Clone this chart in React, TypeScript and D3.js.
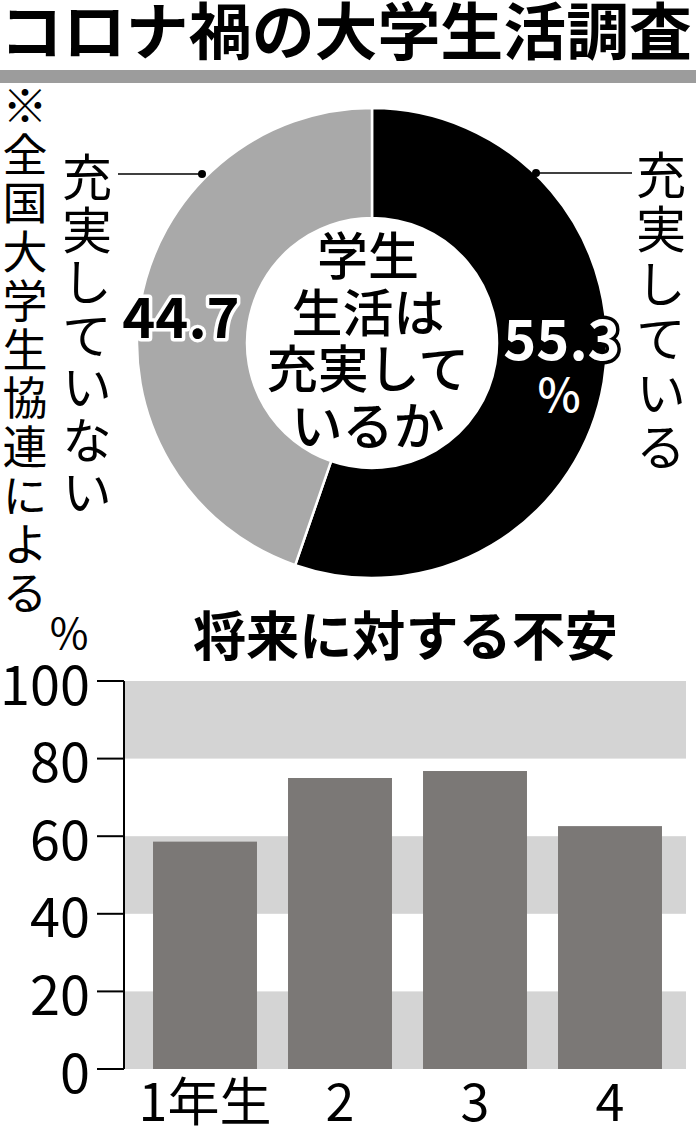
import React from "react";
import * as d3 from "d3";

const title = "コロナ禍の大学生活調査";
const note = "※全国大学生協連による";
const donutLabels = ["充実している", "充実していない"];
const donutValues = [55.3, 44.7];
const donutCenter = ["学生", "生活は", "充実して", "いるか"];
const barTitle = "将来に対する不安";
const categories = ["1年生", "2", "3", "4"];
const barValues = [58.6, 75.0, 76.8, 62.6];
const yTicks = [0, 20, 40, 60, 80, 100];

const W = 696;
const H = 1135;
const FONT = "'Noto Sans CJK JP', 'Noto Sans', sans-serif";

export default function App() {
  // donut
  const cx = 372, cy = 343, R = 235, r = 125;
  const pie = d3.pie<number>().sort(null).startAngle(0).endAngle(2 * Math.PI);
  const arcs = pie(donutValues);
  const arcGen = d3.arc<d3.PieArcDatum<number>>().innerRadius(r).outerRadius(R);
  const donutColors = ["#000000", "#a9a9a9"];

  // bars
  const y = d3.scaleLinear().domain([0, 100]).range([1069, 681]);
  const x = d3.scaleBand<string>().domain(categories).range([124, 691]).paddingInner(0.23).paddingOuter(0.215);
  const plotLeft = 125, plotRight = 686;
  const bands: [number, number][] = [[80, 100], [40, 60], [0, 20]];

  const vertical = (text: string, x0: number, firstCenter: number, step: number, size: number) => (
    <text
      x={x0}
      y={firstCenter - size / 2}
      fontSize={size}
      fill="#000"
      letterSpacing={step - size}
      style={{ writingMode: "vertical-rl" as any }}
    >
      {text}
    </text>
  );

  return (
    <svg width={W} height={H} style={{ position: "absolute", left: 0, top: 0, background: "#fff" }} fontFamily={FONT}>
      <rect x={0} y={0} width={W} height={H} fill="#fff" />
      {/* title */}
      <text x={0} y={55} fontSize={62} fontWeight={700} textLength={692} lengthAdjust="spacingAndGlyphs" fill="#000">
        {title}
      </text>
      <rect x={0} y={70} width={W} height={13} fill="#9c9c9c" />

      {/* note */}
      {vertical(note, 25, 106, 48.7, 45)}

      {/* donut */}
      <g transform={`translate(${cx},${cy})`}>
        {arcs.map((a, i) => (
          <path key={i} d={arcGen(a) || ""} fill={donutColors[i]} stroke="#fff" strokeWidth={2.5} />
        ))}
      </g>
      {donutCenter.map((t, i) => (
        <text key={"c" + i} x={368} y={253 + i * 56.5} fontSize={51} fontWeight={500} textAnchor="middle" dominantBaseline="central" fill="#000">
          {t}
        </text>
      ))}

      {/* left label */}
      {vertical(donutLabels[1], 87, 177, 52.5, 50)}
      <line x1={118} x2={202} y1={174} y2={174} stroke="#000" strokeWidth={1.5} />
      <circle cx={202} cy={174} r={4} fill="#000" />
      <text x={181} y={313} fontSize={56} fontWeight={700} textAnchor="middle" dominantBaseline="central" fill="#000" stroke="#fff" strokeWidth={7} strokeLinejoin="round" style={{ paintOrder: "stroke" }}>
        {donutValues[1].toFixed(1)}
      </text>

      {/* right label */}
      {vertical(donutLabels[0], 661, 175, 54.4, 50)}
      <line x1={536} x2={632} y1={173} y2={173} stroke="#000" strokeWidth={1.5} />
      <circle cx={536} cy={173} r={4} fill="#000" />
      <text x={562} y={335} fontSize={56} fontWeight={700} textAnchor="middle" dominantBaseline="central" fill="#fff" stroke="#000" strokeWidth={7} strokeLinejoin="round" style={{ paintOrder: "stroke" }}>
        {donutValues[0].toFixed(1)}
      </text>
      <text x={559} y={392} fontSize={46} fontWeight={500} textAnchor="middle" dominantBaseline="central" fill="#fff">
        %
      </text>

      {/* bar chart title */}
      <text x={193} y={656} fontSize={53} fontWeight={700} textLength={425} lengthAdjust="spacingAndGlyphs" fill="#000">
        {barTitle}
      </text>

      {/* bands */}
      {bands.map(([a, b], i) => (
        <rect key={"b" + i} x={plotLeft} y={y(b)} width={plotRight - plotLeft} height={y(a) - y(b)} fill="#d4d4d4" />
      ))}

      {/* bars */}
      {categories.map((c, i) => (
        <rect key={"bar" + i} x={x(c)} y={y(barValues[i])} width={x.bandwidth()} height={y(0) - y(barValues[i])} fill="#7b7876" />
      ))}

      {/* axis */}
      <line x1={124} x2={124} y1={y(100)} y2={y(0)} stroke="#000" strokeWidth={2} />
      {yTicks.map((t) => (
        <g key={"t" + t}>
          <line x1={97} x2={124} y1={y(t)} y2={y(t)} stroke="#000" strokeWidth={2} />
          <text x={90} y={y(t)} fontSize={54} textAnchor="end" dominantBaseline="central" fill="#000">
            {t}
          </text>
        </g>
      ))}
      <text x={69} y={630} fontSize={42} textAnchor="middle" dominantBaseline="central" fill="#000">
        %
      </text>

      {/* category labels */}
      {categories.map((c) => (
        <text key={"cl" + c} x={(x(c) || 0) + x.bandwidth() / 2} y={1121} fontSize={52} textAnchor="middle" fill="#000">
          {c}
        </text>
      ))}
    </svg>
  );
}
